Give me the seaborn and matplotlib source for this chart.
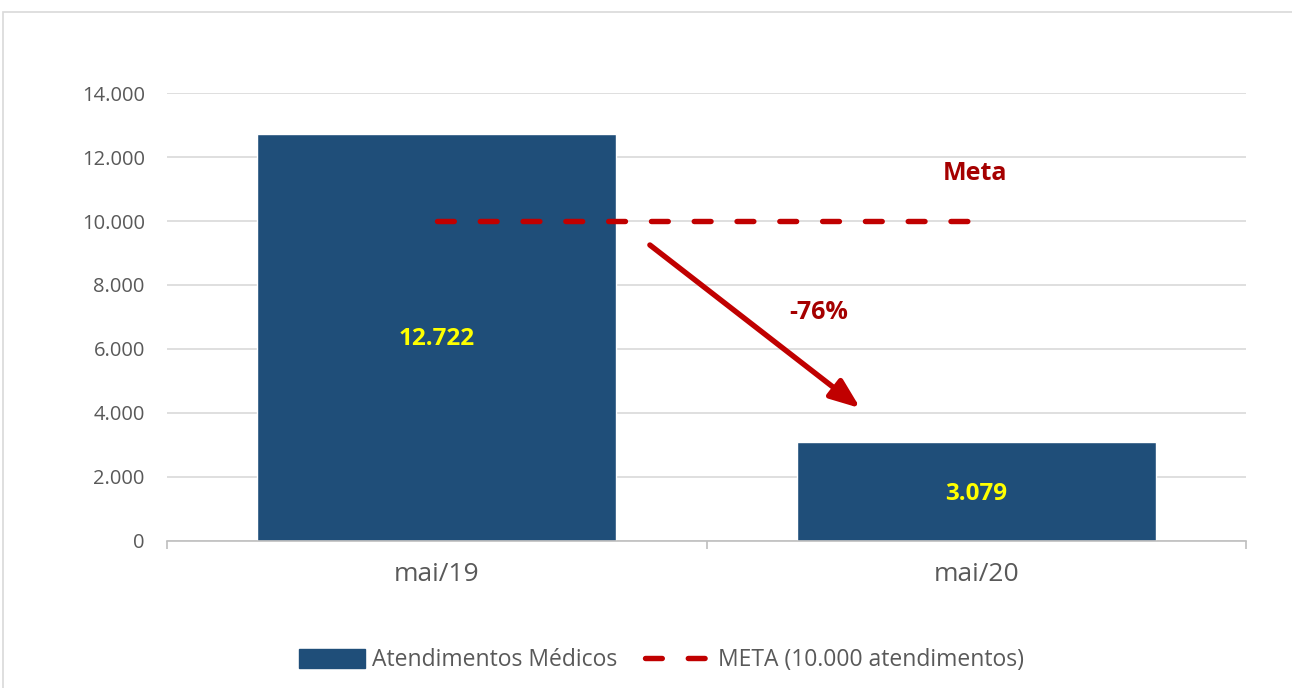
import matplotlib
matplotlib.use("Agg")
import matplotlib.pyplot as plt
import seaborn as sns
import pandas as pd
from matplotlib.patches import Patch, Rectangle
from matplotlib.lines import Line2D
from matplotlib.ticker import FuncFormatter, FixedLocator

# dados
meses = ["mai/19", "mai/20"]
atendimentos = [12722, 3079]
meta = [10000, 10000]
variacao = "-76%"

cor_barra = "#1F4E79"
cor_meta = "#C00000"
cor_texto = "#595959"

sns.set_style("white")
plt.rcParams["font.family"] = ["Open Sans", "DejaVu Sans"]

df = pd.DataFrame({"mes": meses, "atendimentos": atendimentos})

fig = plt.figure(figsize=(12.92, 6.88), dpi=100)
ax = fig.add_axes([0.1293, 0.2137, 0.8351, 0.6511])

# moldura do gráfico
fig.patches.append(Rectangle((3 / 1292, -0.01), 1.1, 1 - 12 / 688 + 0.01,
                             transform=fig.transFigure, fill=False,
                             edgecolor="#d9d9d9", linewidth=1.2))

sns.barplot(data=df, x="mes", y="atendimentos", color=cor_barra,
            width=0.665, saturation=1, ax=ax, zorder=2)

ax.plot([0, 1], meta, color=cor_meta, linewidth=3.9, dashes=(3.1, 4.8),
        dash_capstyle="round", zorder=3)

# rótulos dentro das barras
for i, v in enumerate(atendimentos):
    ax.text(i, v / 2 - 60, f"{v:,}".replace(",", "."), ha="center", va="center",
            color="#FFFF00", fontsize=17.5, fontweight="bold", zorder=4)

# seta de variação
ax.annotate("", xy=(0.785, 4150), xytext=(0.395, 9250),
            arrowprops=dict(arrowstyle="-|>,head_length=1.8,head_width=0.7",
                            color=cor_meta, lw=3.9, shrinkA=0, shrinkB=0),
            zorder=4)
ax.text(0.707, 7150, variacao, ha="center", va="center", color="#A50000",
        fontsize=18, fontweight="bold")
ax.text(0.998, 11480, "Meta", ha="center", va="center", color="#A50000",
        fontsize=18, fontweight="bold")

ax.set_xlim(-0.5, 1.5)
ax.set_ylim(0, 14000)
ax.set_yticks(range(0, 14001, 2000))
ax.yaxis.set_major_formatter(FuncFormatter(lambda v, p: f"{int(v):,}".replace(",", ".")))
ax.grid(axis="y", color="#d9d9d9", linewidth=1.2, zorder=0)
ax.set_axisbelow(True)
ax.set_xlabel("")
ax.set_ylabel("")

for s in ["top", "right", "left"]:
    ax.spines[s].set_visible(False)
ax.spines["bottom"].set_color("#bfbfbf")
ax.spines["bottom"].set_linewidth(1.2)

ax.tick_params(axis="y", length=0, labelsize=14.5, labelcolor=cor_texto, pad=16)
ax.tick_params(axis="x", which="major", length=0, labelsize=19,
               labelcolor=cor_texto, pad=15)
ax.xaxis.set_minor_locator(FixedLocator([-0.5, 0.5, 1.5]))
ax.tick_params(axis="x", which="minor", bottom=True, length=6,
               color="#bfbfbf", width=1.2)

handles = [
    Patch(facecolor=cor_barra, edgecolor=cor_barra, label="Atendimentos Médicos"),
    Line2D([0], [0], color=cor_meta, linewidth=3.9, dashes=(3.1, 4.8),
           dash_capstyle="round", label="META (10.000 atendimentos)"),
]
leg = fig.legend(handles=handles, loc="center", bbox_to_anchor=(0.512, 0.04),
                 ncol=2, frameon=False, fontsize=16.5, handlelength=2.9,
                 handleheight=0.9, columnspacing=1.2, handletextpad=0.3)
for t in leg.get_texts():
    t.set_color(cor_texto)

fig.savefig("out.png", dpi=100)
